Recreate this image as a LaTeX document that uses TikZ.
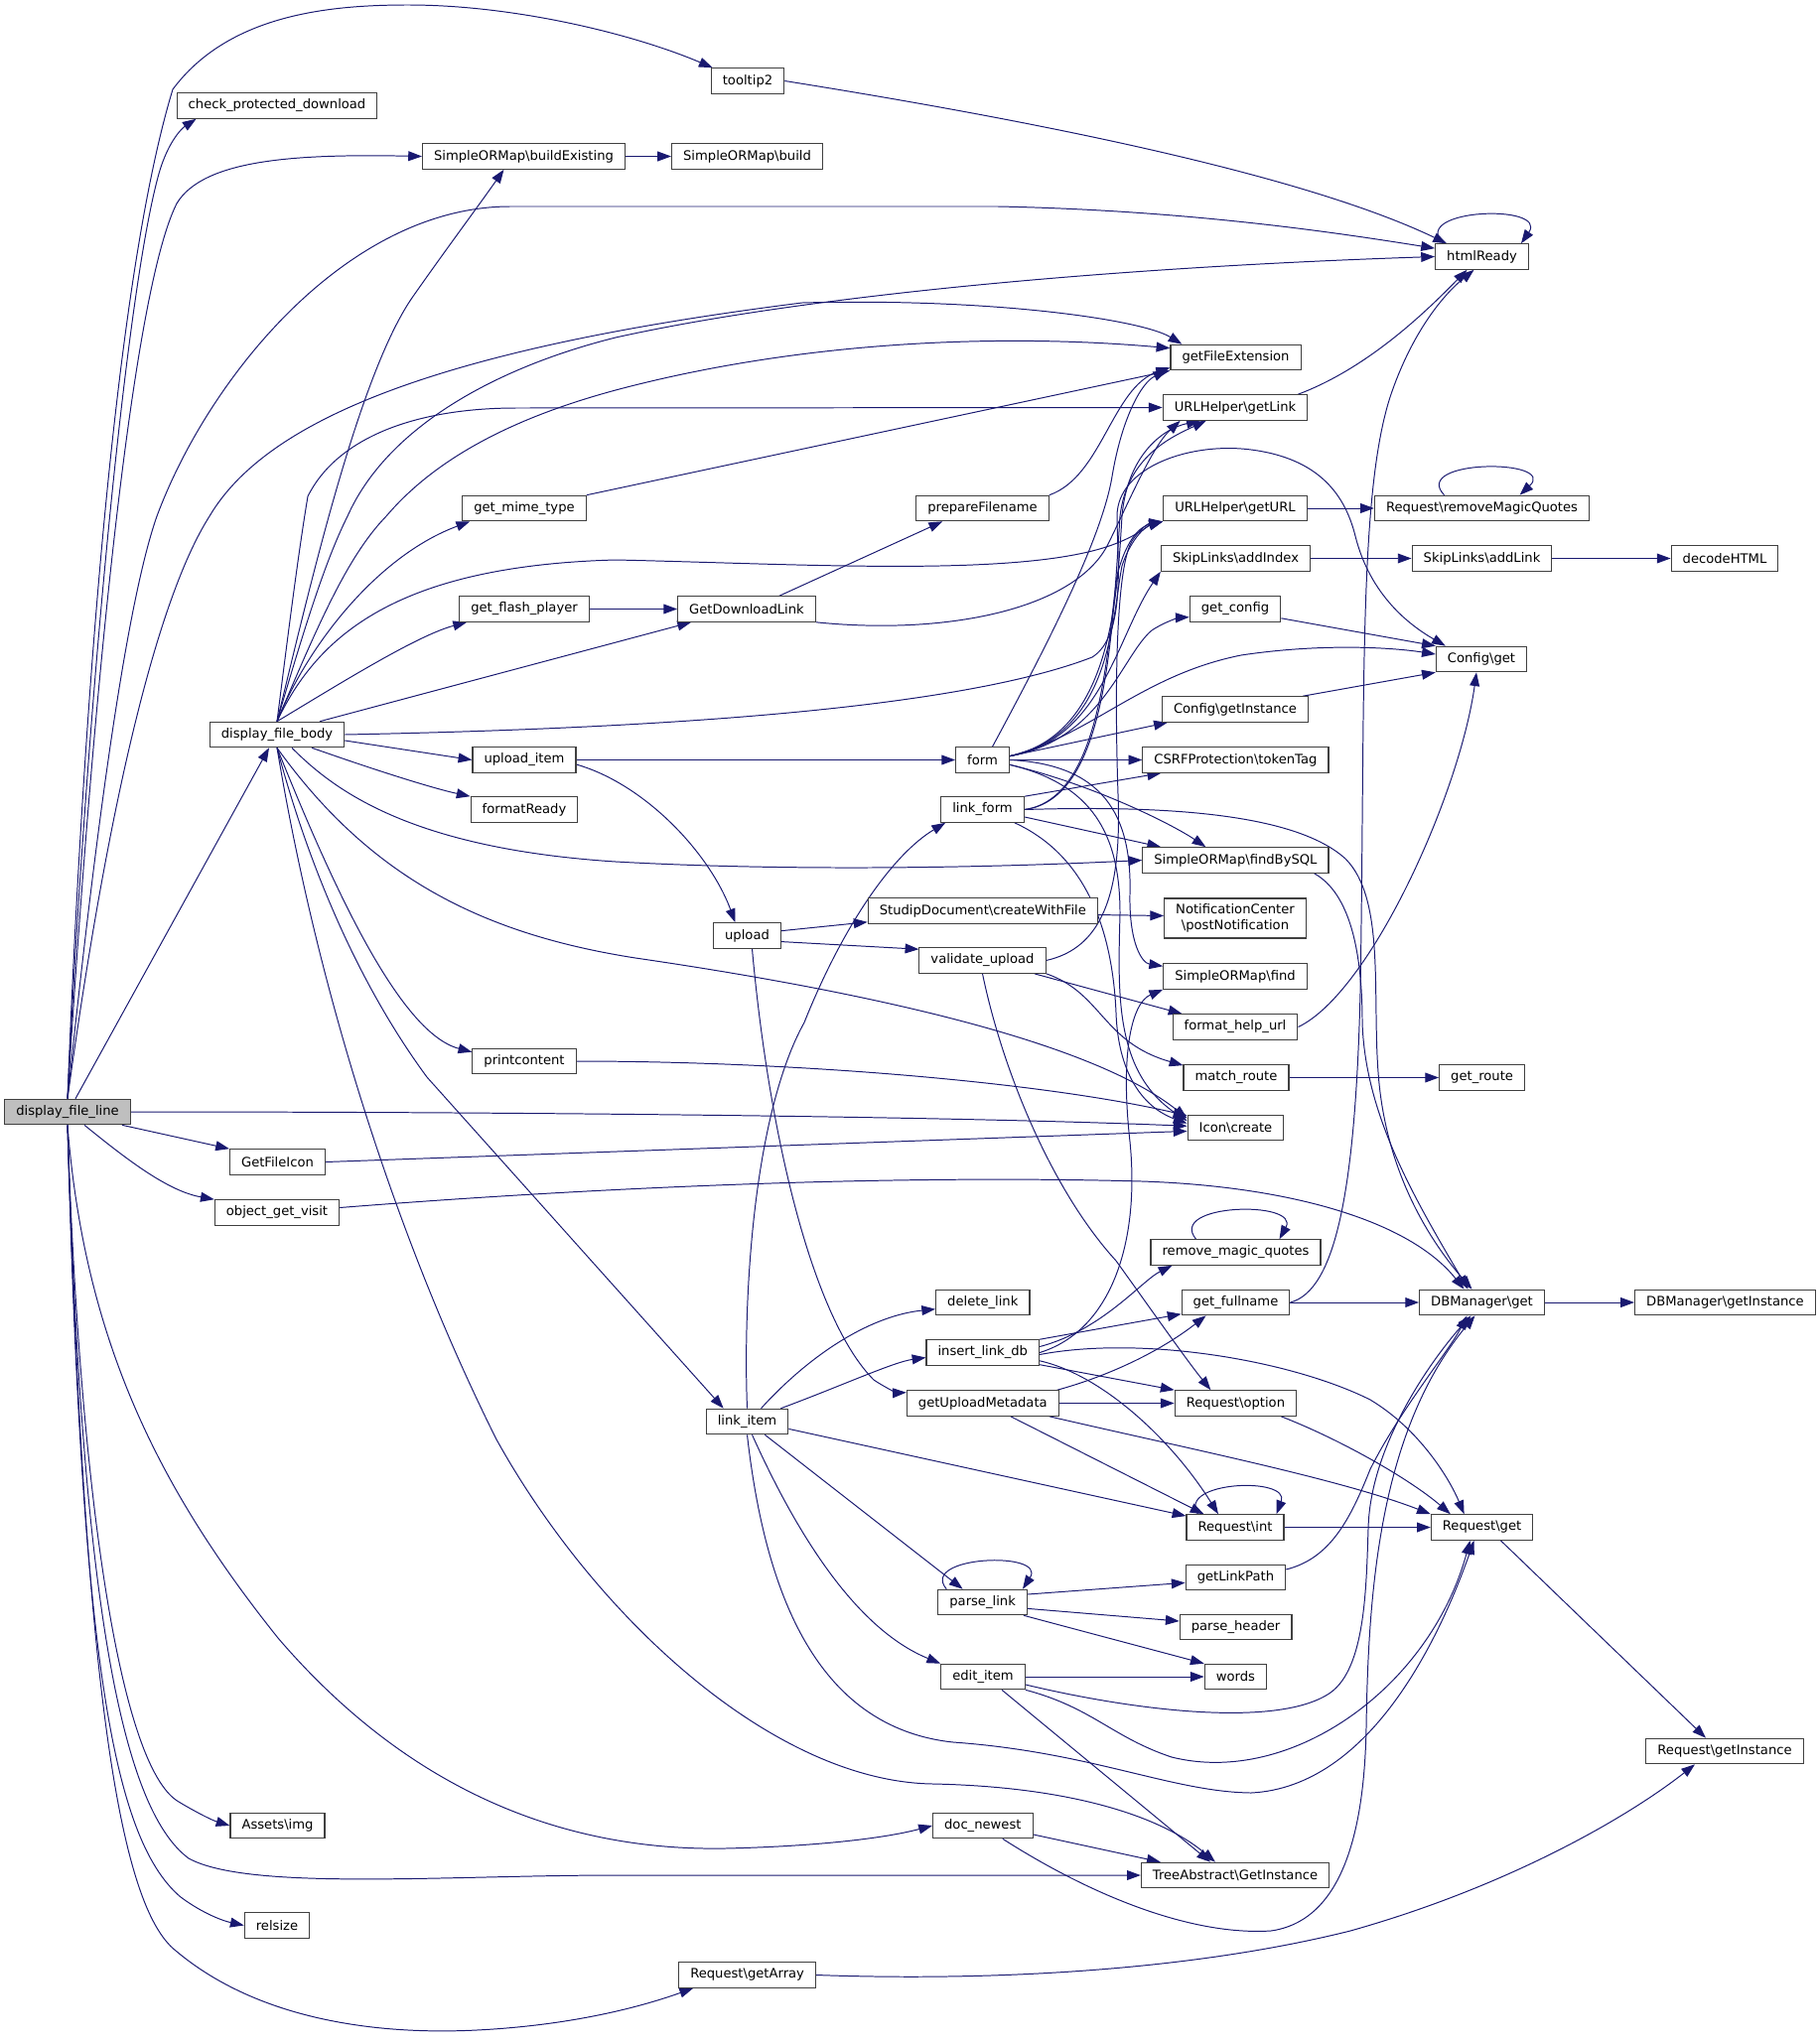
\documentclass[tikz,border=0pt]{standalone}
\usepackage{fontspec}
\setmainfont{DejaVu Sans}
\usetikzlibrary{arrows.meta,calc}
\definecolor{edgeblue}{HTML}{191970}
\definecolor{rootgrey}{HTML}{BFBFBF}
\definecolor{boxline}{HTML}{404040}
\pgfdeclarelayer{edges}
\pgfsetlayers{edges,main}
\begin{document}
\begin{tikzpicture}[x=0.7614pt,y=-0.7614pt,
  fn/.style={draw=boxline,line width=0.85pt,fill=white,inner xsep=8.8pt,inner ysep=0pt,minimum height=19.4pt,font=\fontsize{10}{12}\selectfont},
  rootfn/.style={fn,fill=rootgrey},
  call/.style={draw=edgeblue,line width=0.75pt,-{Triangle[length=10.5pt,width=7.5pt]}}]
\useasboundingbox (0,0) rectangle (1832,2059);
\node [rootfn] (dfl) at (68,1120) {display\_file\_line};
\node [fn] (cpd) at (279,106.5) {check\_protected\_download};
\node [fn] (dfb) at (279,740) {display\_file\_body};
\node [fn] (fileicon) at (279.5,1170.5) {GetFileIcon};
\node [fn] (visit) at (279,1221.5) {object\_get\_visit};
\node [fn] (img) at (279.5,1839) {Assets\textbackslash img};
\node [fn] (relsize) at (279,1939.5) {relsize};
\node [fn] (buildex) at (527.5,157.5) {SimpleORMap\textbackslash buildExisting};
\node [fn] (mime) at (528,512) {get\_mime\_type};
\node [fn] (flash) at (528,613.5) {get\_flash\_player};
\node [fn] (uploaditem) at (528,765.5) {upload\_item};
\node [fn] (formatready) at (528,815.5) {formatReady};
\node [fn] (printcontent) at (528,1069) {printcontent};
\node [fn] (tooltip) at (753,81.5) {tooltip2};
\node [fn] (build) at (752.5,157.5) {SimpleORMap\textbackslash build};
\node [fn] (dllink) at (752,613.5) {GetDownloadLink};
\node [fn] (upload) at (752.5,942.5) {upload};
\node [fn] (linkitem) at (752.5,1432) {link\_item};
\node [fn] (getarray) at (752.6,1989.5) {Request\textbackslash getArray};
\node [fn] (prepare) at (989.5,512) {prepareFilename};
\node [fn] (form) at (989.5,765.5) {form};
\node [fn] (linkform) at (989.5,815.5) {link\_form};
\node [fn] (createfile) at (989.8,917.5) {StudipDocument\textbackslash createWithFile};
\node [fn] (validate) at (989.5,967.5) {validate\_upload};
\node [fn] (deletelink) at (989.8,1312) {delete\_link};
\node [fn] (insertlink) at (989.8,1362.5) {insert\_link\_db};
\node [fn] (metadata) at (989.8,1413.5) {getUploadMetadata};
\node [fn] (parselink) at (989.6,1614) {parse\_link};
\node [fn] (edititem) at (990,1689) {edit\_item};
\node [fn] (docnewest) at (989.8,1839) {doc\_newest};
\node [fn] (fileext) at (1244.5,360) {getFileExtension};
\node [fn] (getlink) at (1244,410.5) {URLHelper\textbackslash getLink};
\node [fn] (geturl) at (1244,512) {URLHelper\textbackslash getURL};
\node [fn] (addindex) at (1244.5,562.5) {SkipLinks\textbackslash addIndex};
\node [fn] (getconfig) at (1244,613.5) {get\_config};
\node [fn] (cfginst) at (1244,714.5) {Config\textbackslash getInstance};
\node [fn] (token) at (1244.4,765.5) {CSRFProtection\textbackslash tokenTag};
\node [fn] (findsql) at (1244.4,866.5) {SimpleORMap\textbackslash findBySQL};
\node [fn, minimum height=30.5pt, align=center] (notify) at (1244,925) {NotificationCenter\\\textbackslash postNotification};
\node [fn] (find) at (1244,983.5) {SimpleORMap\textbackslash find};
\node [fn] (helpurl) at (1244,1034.5) {format\_help\_url};
\node [fn] (matchroute) at (1245,1085.5) {match\_route};
\node [fn] (icon) at (1244.5,1136) {Icon\textbackslash create};
\node [fn] (rmquotes) at (1244.5,1261.5) {remove\_magic\_quotes};
\node [fn] (fullname) at (1244.5,1312) {get\_fullname};
\node [fn] (reqoption) at (1244.4,1413.5) {Request\textbackslash option};
\node [fn] (reqint) at (1244,1538.5) {Request\textbackslash int};
\node [fn] (linkpath) at (1244.4,1589) {getLinkPath};
\node [fn] (parseheader) at (1244.6,1639) {parse\_header};
\node [fn] (words) at (1244.4,1689) {words};
\node [fn] (treeinst) at (1244,1889) {TreeAbstract\textbackslash GetInstance};
\node [fn] (htmlready) at (1492.5,258.5) {htmlReady};
\node [fn] (magicquotes) at (1492.5,512) {Request\textbackslash removeMagicQuotes};
\node [fn] (addlink) at (1492.5,562.5) {SkipLinks\textbackslash addLink};
\node [fn] (cfgget) at (1492,664) {Config\textbackslash get};
\node [fn] (getroute) at (1492.6,1085.5) {get\_route};
\node [fn] (dbget) at (1492.5,1312) {DBManager\textbackslash get};
\node [fn] (reqget) at (1492.6,1538.5) {Request\textbackslash get};
\node [fn] (decode) at (1737,562.5) {decodeHTML};
\node [fn] (dbinst) at (1737.4,1312) {DBManager\textbackslash getInstance};
\node [fn] (reqinst) at (1737,1764) {Request\textbackslash getInstance};
\begin{pgfonlayer}{edges}
\draw [call] (dfl.north) .. controls (80,800) and (110,300) .. (174,90) .. controls (230,15) and (330,5) .. (411,5) .. controls (520,5) and (640,35) .. ($(tooltip.north west)+(2,0)$);
\draw [call] (dfl.north) .. controls (85,750) and (125,300) .. (160,175) .. controls (170,140) and (185,128) .. ($(cpd.south west)+(20,0)$);
\draw [call] (dfl.north) .. controls (90,750) and (130,300) .. (178,205) .. controls (205,160) and (300,155) .. (buildex.west);
\draw [call] (dfl.north) .. controls (100,800) and (130,600) .. (158,520) .. controls (210,380) and (350,208) .. (514,208) -- (1005,208) .. controls (1200,212) and (1350,235) .. (htmlready.170);
\draw [call] (dfl.north) .. controls (110,800) and (160,600) .. (211,520) .. controls (270,420) and (450,350) .. (808,305) .. controls (1000,300) and (1150,322) .. ($(fileext.north west)+(12,0)$);
\draw [call] ($(dfl.north)+(8,0)$) -- ($(dfb.south)+(-8,0)$);
\draw [call] (dfl.east) .. controls (600,1120) and (1000,1126) .. (icon.178);
\draw [call] ($(dfl.south east)+(-9,0)$) -- (fileicon.north west);
\draw [call] ($(dfl.south)+(17,0)$) .. controls (130,1170) and (170,1200) .. (visit.north west);
\draw [call] (dfl.south) .. controls (85,1350) and (160,1500) .. (280,1650) .. controls (400,1790) and (550,1865) .. (730,1862) .. controls (820,1860) and (890,1852) .. (docnewest.west);
\draw [call] (dfl.south) .. controls (80,1500) and (120,1780) .. (180,1815) .. controls (200,1827) and (215,1834) .. (img.west);
\draw [call] (dfl.south) .. controls (82,1600) and (120,1820) .. (190,1872) .. controls (250,1905) and (450,1889) .. (620,1889) -- (treeinst.west);
\draw [call] (dfl.south) .. controls (82,1650) and (110,1850) .. (182,1911) .. controls (205,1928) and (225,1935) .. (relsize.west);
\draw [call] (dfl.south) .. controls (85,1700) and (120,1920) .. (177,1965) .. controls (260,2035) and (380,2050) .. (480,2045) .. controls (580,2040) and (650,2020) .. ($(getarray.south west)+(15,0)$);
\draw [call] (dfb.north) .. controls (290,640) and (300,560) .. (310,500) .. controls (340,440) and (420,411) .. (520,411) -- (getlink.west);
\draw [call] (dfb.north) .. controls (310,600) and (360,380) .. (415,300) .. controls (450,250) and (480,210) .. ($(buildex.south)+(-20,0)$);
\draw [call] (dfb.north) .. controls (310,620) and (330,560) .. (350,520) .. controls (390,430) and (500,370) .. (620,340) .. controls (800,300) and (1100,270) .. (htmlready.west);
\draw [call] (dfb.north) .. controls (320,630) and (350,560) .. (389,520) .. controls (440,460) and (520,420) .. (620,393) .. controls (800,345) and (1000,335) .. (fileext.172);
\draw [call] (dfb.north) .. controls (310,650) and (380,560) .. ($(mime.south west)+(8,0)$);
\draw [call] (dfb.north) .. controls (320,640) and (400,570) .. (620,564) .. controls (800,568) and (1000,580) .. (1100,555) .. controls (1140,545) and (1155,530) .. (geturl.south west);
\draw [call] (dfb.north) .. controls (340,690) and (420,640) .. ($(flash.south west)+(8,0)$);
\draw [call] ($(dfb.north)+(43,0)$) -- ($(dllink.south west)+(14,0)$);
\draw [call] (dfb.east) .. controls (600,735) and (950,720) .. (1100,662) .. controls (1135,640) and (1125,560) .. (1125,520) .. controls (1125,470) and (1200,445) .. (1260,453) .. controls (1330,462) and (1355,500) .. (1365,540) .. controls (1380,600) and (1420,630) .. ($(cfgget.north west)+(10,0)$);
\draw [call] (dfb.-5) -- (uploaditem.west);
\draw [call] ($(dfb.south)+(35,0)$) .. controls (390,780) and (440,795) .. (formatready.north west);
\draw [call] ($(dfb.south)+(15,0)$) .. controls (340,800) and (420,855) .. (620,868) .. controls (800,878) and (1000,874) .. (findsql.west);
\draw [call] (dfb.south) .. controls (370,880) and (480,940) .. (640,965) .. controls (880,1000) and (1100,1050) .. (icon.169);
\draw [call] (dfb.south) .. controls (330,880) and (400,1040) .. (printcontent.170);
\draw [call] (dfb.south) .. controls (310,870) and (360,990) .. (430,1085) -- ($(linkitem.north west)+(18,0)$);
\draw [call] (dfb.south) .. controls (320,1000) and (400,1250) .. (500,1450) .. controls (600,1630) and (780,1795) .. (940,1797) .. controls (1080,1800) and (1170,1830) .. ($(treeinst.north)+(-20,0)$);
\draw [call] (tooltip.east) .. controls (1000,115) and (1300,170) .. ($(htmlready.north west)+(12,0)$);
\draw [call] (buildex.east) -- (build.west);
\draw [call] (mime.north east) -- (fileext.south west);
\draw [call] (flash.east) -- (dllink.west);
\draw [call] ($(dllink.north east)+(-37,0)$) -- ($(prepare.south west)+(27,0)$);
\draw [call] (dllink.south east) .. controls (950,640) and (1080,615) .. (1115,550) .. controls (1135,510) and (1160,450) .. ($(getlink.south west)+(18,0)$);
\draw [call] (prepare.north east) .. controls (1110,480) and (1120,390) .. ($(fileext.south west)+(0,-3)$);
\draw [call] ($(getlink.north east)+(-10,0)$) .. controls (1380,370) and (1440,310) .. ($(htmlready.south)+(-15,0)$);
\draw [call] (fullname.east) .. controls (1345,1300) and (1365,1200) .. (1370,1000) .. controls (1375,700) and (1368,500) .. (1400,400) .. controls (1420,340) and (1450,300) .. ($(htmlready.south)+(-8,0)$);
\draw [call] (geturl.east) -- (magicquotes.west);
\draw [call] ($(magicquotes.north)+(-38,0)$) .. controls (1420,462) and (1570,462) .. ($(magicquotes.north)+(38,0)$);
\draw [call] ($(htmlready.north west)+(8,0)$) .. controls (1420,210) and (1560,205) .. ($(htmlready.north east)+(-8,0)$);
\draw [call] (addindex.east) -- (addlink.west);
\draw [call] (addlink.east) -- (decode.west);
\draw [call] ($(getconfig.south east)+(0,-4)$) -- (cfgget.north west);
\draw [call] ($(cfginst.north east)+(-6,0)$) -- (cfgget.south west);
\draw [call] (helpurl.east) .. controls (1380,1000) and (1470,800) .. ($(cfgget.south)+(-5,0)$);
\draw [call] (matchroute.east) -- (getroute.west);
\draw [call] (printcontent.east) .. controls (800,1069) and (1050,1090) .. (icon.166);
\draw [call] (fileicon.east) -- (icon.184);
\draw [call] ($(visit.east)+(0,-5)$) .. controls (600,1196) and (900,1183) .. (1150,1190) .. controls (1300,1195) and (1420,1230) .. ($(dbget.north)+(-18,0)$);
\draw [call] ($(findsql.south east)+(-15,0)$) .. controls (1360,900) and (1372,960) .. (1372,1030) .. controls (1375,1120) and (1420,1200) .. ($(dbget.north)+(-14,0)$);
\draw [call] (linkform.east) .. controls (1150,812) and (1300,815) .. (1355,865) .. controls (1395,905) and (1382,1000) .. (1388,1080) .. controls (1395,1180) and (1440,1250) .. ($(dbget.north)+(-10,0)$);
\draw [call] (fullname.east) -- (dbget.west);
\draw [call] (dbget.east) -- (dbinst.west);
\draw [call] ($(linkpath.east)+(0,-8)$) .. controls (1340,1570) and (1360,1530) .. (1380,1480) .. controls (1410,1420) and (1460,1360) .. ($(dbget.south)+(-15,0)$);
\draw [call] ($(edititem.east)+(0,8)$) .. controls (1150,1725) and (1290,1740) .. (1340,1705) .. controls (1375,1680) and (1376,1600) .. (1378,1540) .. controls (1380,1450) and (1450,1360) .. ($(dbget.south)+(-11,0)$);
\draw [call] ($(docnewest.south)+(20,0)$) .. controls (1100,1910) and (1200,1950) .. (1280,1945) .. controls (1350,1935) and (1374,1850) .. (1376,1740) .. controls (1378,1600) and (1390,1440) .. ($(dbget.south)+(-7,0)$);
\draw [call] ($(reqget.south east)+(-33,0)$) -- ($(reqinst.north)+(-19,0)$);
\draw [call] (getarray.east) .. controls (1000,1996) and (1200,1985) .. (1360,1945) .. controls (1520,1900) and (1640,1830) .. ($(reqinst.south)+(-30,0)$);
\draw [call] ($(reqoption.south east)+(-16,0)$) .. controls (1350,1450) and (1420,1490) .. ($(reqget.north west)+(20,0)$);
\draw [call] (reqint.east) -- (reqget.west);
\draw [call] ($(reqint.north west)+(12,0)$) .. controls (1185,1492) and (1300,1487) .. ($(reqint.north east)+(-8,0)$);
\draw [call] ($(rmquotes.north)+(-40,0)$) .. controls (1175,1212) and (1310,1209) .. ($(rmquotes.north)+(44,0)$);
\draw [call] ($(parselink.north west)+(9,0)$) .. controls (925,1567) and (1055,1562) .. ($(parselink.north east)+(-5,0)$);
\draw [call] ($(linkitem.south east)+(-24,0)$) -- ($(parselink.north)+(-20,0)$);
\draw [call] ($(linkitem.south)+(5,0)$) .. controls (800,1540) and (860,1640) .. (edititem.north west);
\draw [call] (linkitem.south) .. controls (770,1600) and (820,1740) .. (960,1755) .. controls (1100,1765) and (1180,1805) .. (1260,1806) .. controls (1380,1800) and (1450,1650) .. ($(reqget.south)+(-8,0)$);
\draw [call] (linkitem.north) .. controls (748,1300) and (760,1120) .. (810,1030) .. controls (850,930) and (900,860) .. ($(linkform.south west)+(5,0)$);
\draw [call] ($(linkitem.north)+(14,0)$) .. controls (820,1360) and (880,1325) .. (deletelink.-172);
\draw [call] ($(linkitem.north east)+(-8,0)$) .. controls (850,1395) and (900,1372) .. (insertlink.-175);
\draw [call] (linkitem.-10) -- (reqint.167);
\draw [call] (insertlink.north east) -- (fullname.-168);
\draw [call] ($(insertlink.east)+(0,-6)$) .. controls (1110,1340) and (1150,1290) .. ($(rmquotes.south west)+(22,0)$);
\draw [call] (insertlink.east) .. controls (1120,1340) and (1148,1250) .. (1138,1150) .. controls (1128,1060) and (1140,1010) .. (find.south west);
\draw [call] ($(insertlink.east)+(0,2)$) .. controls (1150,1345) and (1300,1370) .. (1380,1410) .. controls (1430,1440) and (1460,1490) .. ($(reqget.north)+(-18,0)$);
\draw [call] ($(insertlink.south east)+(0,-5)$) .. controls (1110,1385) and (1180,1450) .. ($(reqint.north)+(-17,0)$);
\draw [call] (insertlink.-12) -- (reqoption.north west);
\draw [call] ($(metadata.north east)+(-2,0)$) .. controls (1120,1385) and (1170,1360) .. ($(fullname.south west)+(25,0)$);
\draw [call] (metadata.east) -- (reqoption.west);
\draw [call] ($(metadata.south east)+(-10,0)$) .. controls (1200,1460) and (1350,1490) .. (reqget.north west);
\draw [call] ($(metadata.south)+(28,0)$) -- ($(reqint.north west)+(18,0)$);
\draw [call] (validate.south) .. controls (1010,1080) and (1060,1200) .. (1124,1270) .. controls (1160,1320) and (1195,1370) .. ($(reqoption.north)+(-25,0)$);
\draw [call] ($(validate.south east)+(-12,0)$) -- ($(helpurl.north west)+(10,0)$);
\draw [call] (validate.south east) .. controls (1110,1000) and (1110,1050) .. (matchroute.167);
\draw [call] (validate.east) .. controls (1110,955) and (1130,900) .. (1126,800) .. controls (1122,680) and (1125,570) .. (1140,545) .. controls (1150,530) and (1158,527) .. (geturl.south west);
\draw [call] (uploaditem.east) -- (form.west);
\draw [call] (uploaditem.-5) .. controls (650,790) and (715,860) .. ($(upload.north)+(-12,0)$);
\draw [call] (upload.8) -- ($(createfile.south west)+(0,-2)$);
\draw [call] (upload.-10) -- (validate.170);
\draw [call] ($(upload.south)+(5,0)$) .. controls (775,1150) and (820,1330) .. (880,1390) .. controls (895,1400) and (905,1403) .. (metadata.172);
\draw [call] (createfile.-2) -- (notify.178);
\draw [call] ($(form.north)+(10,0)$) .. controls (1060,640) and (1110,540) .. (1120,480) .. controls (1130,420) and (1150,385) .. ($(fileext.south west)+(-3,0)$);
\draw [call] (form.8) .. controls (1120,740) and (1125,600) .. (1130,520) .. controls (1135,460) and (1170,432) .. ($(getlink.south west)+(38,0)$);
\draw [call] (form.8) .. controls (1120,740) and (1120,620) .. (1130,570) .. controls (1140,540) and (1155,530) .. (geturl.south west);
\draw [call] (form.8) .. controls (1110,745) and (1125,640) .. (addindex.south west);
\draw [call] (form.8) .. controls (1110,745) and (1130,660) .. (1160,635) .. controls (1175,625) and (1190,622) .. (getconfig.-170);
\draw [call] (form.8) .. controls (1100,740) and (1150,680) .. (1250,660) .. controls (1330,648) and (1400,652) .. ($(cfgget.west)+(0,-5)$);
\draw [call] (form.8) -- ($(cfginst.south west)+(6,0)$);
\draw [call] (form.east) -- (token.west);
\draw [call] (form.-10) .. controls (1100,790) and (1180,830) .. ($(findsql.north)+(-30,0)$);
\draw [call] (form.east) .. controls (1110,770) and (1140,820) .. (1138,900) .. controls (1137,950) and (1150,970) .. (find.172);
\draw [call] (form.-10) .. controls (1100,790) and (1128,840) .. (1128,920) .. controls (1126,1000) and (1122,1080) .. (icon.172);
\draw [call] (linkform.north east) -- ($(token.south west)+(19,0)$);
\draw [call] (linkform.east) .. controls (1115,805) and (1120,640) .. (1128,520) .. controls (1135,460) and (1180,440) .. ($(getlink.south west)+(44,0)$);
\draw [call] (linkform.east) .. controls (1110,805) and (1115,650) .. (1125,580) .. controls (1135,540) and (1150,530) .. (geturl.south west);
\draw [call] (linkform.-10) -- ($(findsql.north west)+(19,0)$);
\draw [call] ($(linkform.south east)+(-10,0)$) .. controls (1090,860) and (1120,930) .. (1124,1020) .. controls (1126,1080) and (1150,1115) .. (icon.175);
\draw [call] (edititem.east) -- (words.west);
\draw [call] ($(edititem.south)+(19,0)$) -- ($(treeinst.north)+(-25,0)$);
\draw [call] (edititem.south east) .. controls (1100,1720) and (1120,1750) .. (1180,1770) .. controls (1300,1800) and (1440,1700) .. ($(reqget.south)+(-12,0)$);
\draw [call] (docnewest.-10) -- ($(treeinst.north west)+(20,0)$);
\draw [call] (parselink.10) -- (linkpath.186);
\draw [call] (parselink.-8) -- (parseheader.174);
\draw [call] ($(parselink.south east)+(-4,0)$) -- (words.north west);
\end{pgfonlayer}
\end{tikzpicture}
\end{document}
